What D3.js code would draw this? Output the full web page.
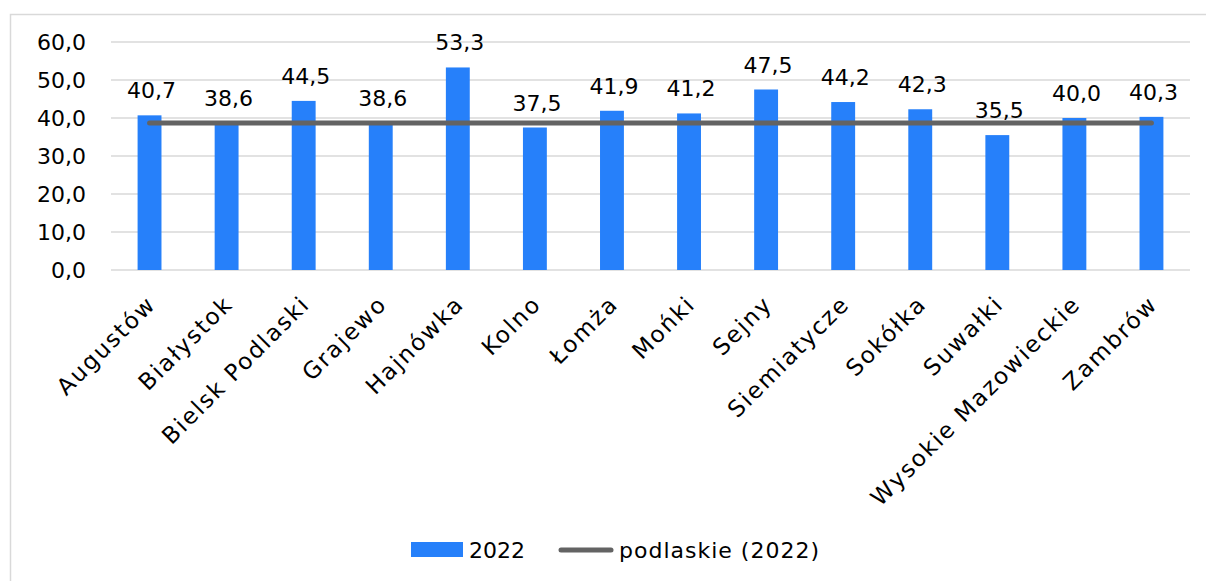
<!DOCTYPE html>
<html><head><meta charset="utf-8">
<script src="https://cdn.jsdelivr.net/npm/d3@7"></script>
<style>body{margin:0;background:#fff}svg{display:block}text{font-family:"DejaVu Sans",sans-serif;fill:#000}</style>
</head><body><svg id="c" width="1206" height="581"></svg>
<script>
const categories = ["Augustów","Białystok","Bielsk Podlaski","Grajewo","Hajnówka","Kolno","Łomża","Mońki","Sejny","Siemiatycze","Sokółka","Suwałki","Wysokie Mazowieckie","Zambrów"];
const values2022 = [40.7,38.6,44.5,38.6,53.3,37.5,41.9,41.2,47.5,44.2,42.3,35.5,40.0,40.3];
const podlaskie2022 = 38.7;
const yTicks = [0,10,20,30,40,50,60];
const seriesNames = ["2022","podlaskie (2022)"];

const svg = d3.select("#c");
const fmt = v => v.toFixed(1).replace(".", ",");
const barColor = "#2680FA", lineColor = "#636363", gridColor = "#d9d9d9";

svg.append("rect").attr("x",10.5).attr("y",14.5).attr("width",1300).attr("height",700)
  .attr("fill","none").attr("stroke","#d9d9d9").attr("stroke-width",1.5);

const x = d3.scaleBand().domain(categories).range([111,1190]).paddingInner(0.69).paddingOuter(0.345);
const y = d3.scaleLinear().domain([0,60]).range([270,42]);

const grid = svg.append("g");
grid.selectAll("line").data(yTicks).join("line")
  .attr("x1",111).attr("x2",1190).attr("y1",d=>y(d)).attr("y2",d=>y(d))
  .attr("stroke",gridColor).attr("stroke-width",1.5);

const yAxis = svg.append("g").attr("transform","translate(111,0)")
  .call(d3.axisLeft(y).tickValues(yTicks).tickFormat(fmt).tickSize(0).tickPadding(25));
yAxis.select(".domain").remove();
yAxis.selectAll("text").attr("font-size",22).attr("font-family","DejaVu Sans").attr("fill","#000");

svg.append("g").selectAll("rect").data(values2022).join("rect")
  .attr("x",(d,i)=>x(categories[i])).attr("width",x.bandwidth())
  .attr("y",d=>y(d)).attr("height",d=>y(0)-y(d)).attr("fill",barColor);

svg.append("g").selectAll("text").data(values2022).join("text")
  .attr("x",(d,i)=>x(categories[i])+x.bandwidth()/2+2).attr("y",d=>y(d)-17)
  .attr("text-anchor","middle").attr("font-size",22).text(fmt);

const cx = c => x(c)+x.bandwidth()/2;
svg.append("path")
  .attr("d", d3.line()([[cx(categories[0]), y(podlaskie2022)], [cx(categories[categories.length-1]), y(podlaskie2022)]]))
  .attr("stroke",lineColor).attr("stroke-width",5).attr("stroke-linecap","round").attr("fill","none");

svg.append("g").selectAll("text").data(categories).join("text")
  .attr("transform",c=>`translate(${cx(c)-4},294) rotate(-45)`)
  .attr("text-anchor","end").attr("dy","0.71em").attr("font-size",23).attr("letter-spacing",1.9)
  .text(c=>c);

const lg = svg.append("g");
lg.append("rect").attr("x",411).attr("y",542).attr("width",52).attr("height",15).attr("fill",barColor);
lg.append("text").attr("x",469).attr("y",558).attr("font-size",22).text(seriesNames[0]);
lg.append("path").attr("d",d3.line()([[561,550],[611,550]]))
  .attr("stroke",lineColor).attr("stroke-width",5).attr("stroke-linecap","round");
lg.append("text").attr("x",619).attr("y",558).attr("font-size",22).attr("letter-spacing",1).text(seriesNames[1]);
</script></body></html>
